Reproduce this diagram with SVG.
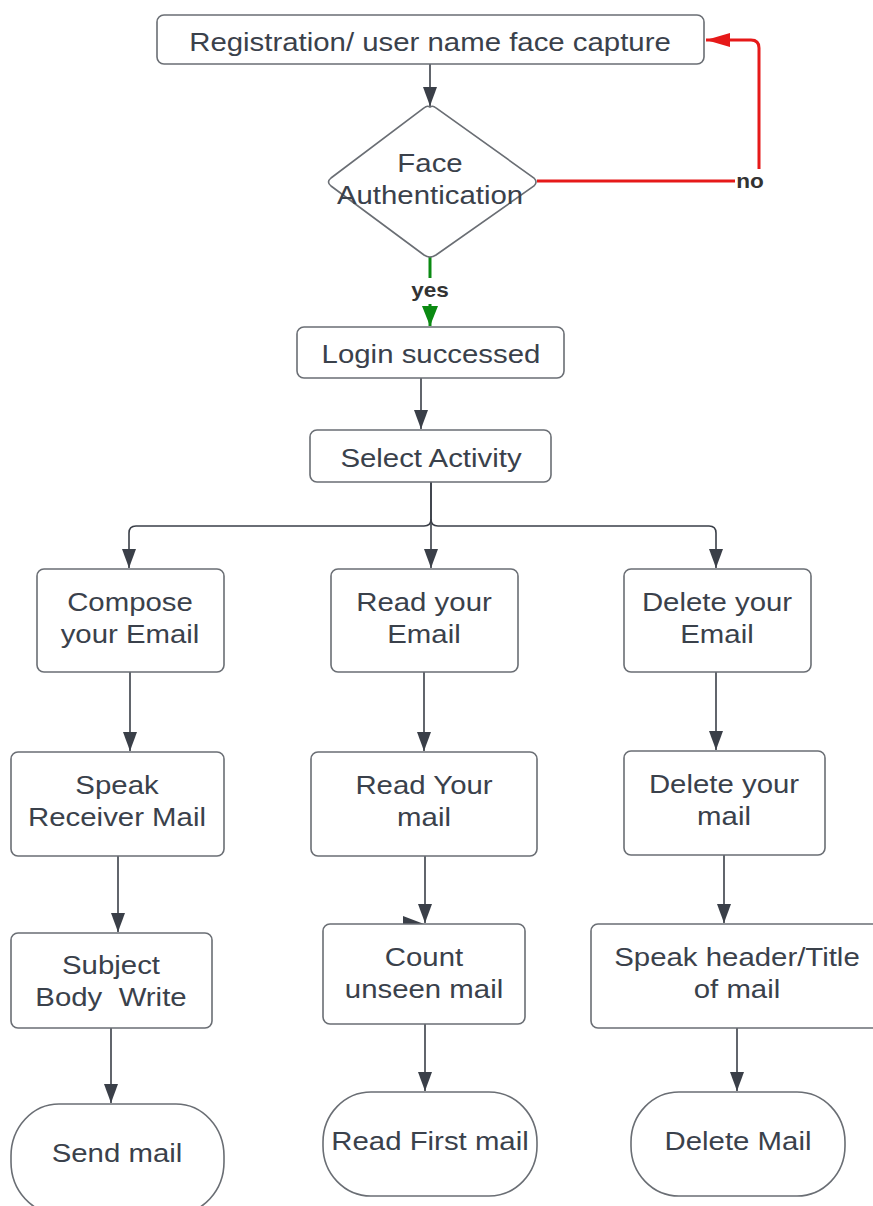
<svg xmlns="http://www.w3.org/2000/svg" width="873" height="1206" viewBox="0 0 873 1206">
<style>
.box{fill:#fff;stroke:#6a6e74;stroke-width:1.6}
.t{font-family:"Liberation Sans",Arial,sans-serif;font-size:26px;fill:#3a414b;text-anchor:middle}
.lbl{font-family:"Liberation Sans",Arial,sans-serif;font-size:20px;font-weight:bold;fill:#333;text-anchor:middle}
.c{fill:none;stroke:#3a3f48;stroke-width:1.6}
</style>
<defs>
<marker id="ah" viewBox="0 0 14 19" refX="14" refY="7" markerWidth="14" markerHeight="19" markerUnits="userSpaceOnUse" orient="auto"><path d="M0,0 L19,7 L0,14 Z" fill="#3a3f48" transform="translate(0,0)"/></marker>
<marker id="ahr" viewBox="0 0 24 14" refX="24" refY="7" markerWidth="24" markerHeight="14" markerUnits="userSpaceOnUse" orient="auto"><path d="M0,0 L24,7 L0,14 Z" fill="#e61919"/></marker>
<marker id="ahg" viewBox="0 0 20 16" refX="20" refY="8" markerWidth="20" markerHeight="16" markerUnits="userSpaceOnUse" orient="auto"><path d="M0,0 L20,8 L0,16 Z" fill="#0b8a12"/></marker>
<marker id="a2" viewBox="0 0 19 14" refX="19" refY="7" markerWidth="19" markerHeight="14" markerUnits="userSpaceOnUse" orient="auto"><path d="M0,0 L19,7 L0,14 Z" fill="#3a3f48"/></marker>
</defs>
<rect width="873" height="1206" fill="#fff"/>
<g id="connectors">
<path class="c" d="M430,64 V106" marker-end="url(#a2)"/>
<path d="M537,181 H759 V48 Q759,40 751,40 H706" fill="none" stroke="#e61919" stroke-width="3" marker-end="url(#ahr)"/>
<rect x="735" y="169" width="32" height="24" fill="#fff"/>
<text class="lbl" transform="translate(750 188) scale(1.13 1)">no</text>
<path d="M430,257 V326" fill="none" stroke="#0b8a12" stroke-width="3" marker-end="url(#ahg)"/>
<rect x="406" y="278" width="48" height="26" fill="#fff"/>
<text class="lbl" transform="translate(430 297) scale(1.13 1)">yes</text>
<path class="c" d="M421,378 V429" marker-end="url(#a2)"/>
<path class="c" d="M431,482 V568" marker-end="url(#a2)"/>
<path class="c" d="M431,482 V519 Q431,526 424,526 H136 Q129,526 129,533 V568" marker-end="url(#a2)"/>
<path class="c" d="M431,519 Q431,526 438,526 H709 Q716,526 716,533 V568" marker-end="url(#a2)"/>
<path class="c" d="M130,672 V751" marker-end="url(#a2)"/>
<path class="c" d="M424,672 V751" marker-end="url(#a2)"/>
<path class="c" d="M716,672 V750" marker-end="url(#a2)"/>
<path class="c" d="M118,856 V932" marker-end="url(#a2)"/>
<path class="c" d="M425,856 V923" marker-end="url(#a2)"/>
<path d="M403,916 L424,924 L403,932 Z" fill="#3a3f48"/>
<path class="c" d="M724,855 V923" marker-end="url(#a2)"/>
<path class="c" d="M111,1028 V1103" marker-end="url(#a2)"/>
<path class="c" d="M425,1024 V1091" marker-end="url(#a2)"/>
<path class="c" d="M737,1028 V1091" marker-end="url(#a2)"/>
</g>
<g id="registration"><rect class="box" x="157" y="15" width="547" height="49" rx="7"/><text class="t" transform="translate(430 51) scale(1.13 1)">Registration/ user name face capture</text></g>
<g id="face-auth"><path class="box" d="M430,107 Q433,105 436,108 L534,178 Q538,182 534,186 L436,255 Q430,259 424,255 L331,186 Q326,182 331,178 L424,108 Q427,105 430,107 Z"/><text class="t" transform="translate(430 172) scale(1.13 1)">Face</text><text class="t" transform="translate(430 204) scale(1.13 1)">Authentication</text></g>
<g id="login"><rect class="box" x="297" y="327" width="267" height="51" rx="7"/><text class="t" transform="translate(431 363) scale(1.13 1)">Login successed</text></g>
<g id="select"><rect class="box" x="310" y="430" width="241" height="52" rx="7"/><text class="t" transform="translate(431 467) scale(1.13 1)">Select Activity</text></g>
<g id="compose"><rect class="box" x="37" y="569" width="187" height="103" rx="7"/><text class="t" transform="translate(130 611) scale(1.13 1)">Compose</text><text class="t" transform="translate(130 643) scale(1.13 1)">your Email</text></g>
<g id="read-email"><rect class="box" x="331" y="569" width="187" height="103" rx="7"/><text class="t" transform="translate(424 611) scale(1.13 1)">Read your</text><text class="t" transform="translate(424 643) scale(1.13 1)">Email</text></g>
<g id="delete-email"><rect class="box" x="624" y="569" width="187" height="103" rx="7"/><text class="t" transform="translate(717 611) scale(1.13 1)">Delete your</text><text class="t" transform="translate(717 643) scale(1.13 1)">Email</text></g>
<g id="speak-receiver"><rect class="box" x="11" y="752" width="213" height="104" rx="7"/><text class="t" transform="translate(117 794) scale(1.13 1)">Speak</text><text class="t" transform="translate(117 826) scale(1.13 1)">Receiver Mail</text></g>
<g id="read-mail"><rect class="box" x="311" y="752" width="226" height="104" rx="7"/><text class="t" transform="translate(424 794) scale(1.13 1)">Read Your</text><text class="t" transform="translate(424 826) scale(1.13 1)">mail</text></g>
<g id="delete-mail"><rect class="box" x="624" y="751" width="201" height="104" rx="7"/><text class="t" transform="translate(724 793) scale(1.13 1)">Delete your</text><text class="t" transform="translate(724 825) scale(1.13 1)">mail</text></g>
<g id="subject"><rect class="box" x="11" y="933" width="201" height="95" rx="7"/><text class="t" transform="translate(111 974) scale(1.13 1)">Subject</text><text class="t" transform="translate(111 1006) scale(1.13 1)" xml:space="preserve">Body  Write</text></g>
<g id="count"><rect class="box" x="323" y="924" width="202" height="100" rx="7"/><text class="t" transform="translate(424 966) scale(1.13 1)">Count</text><text class="t" transform="translate(424 998) scale(1.13 1)">unseen mail</text></g>
<g id="speak-header"><rect class="box" x="591" y="924" width="292" height="104" rx="7"/><text class="t" transform="translate(737 966) scale(1.13 1)">Speak header/Title</text><text class="t" transform="translate(737 998) scale(1.13 1)">of mail</text></g>
<g id="send-mail"><rect class="box" x="11" y="1104" width="213" height="110" rx="48" ry="52"/><text class="t" transform="translate(117 1162) scale(1.13 1)">Send mail</text></g>
<g id="read-first"><rect class="box" x="323" y="1092" width="214" height="104" rx="48" ry="50"/><text class="t" transform="translate(430 1150) scale(1.13 1)">Read First mail</text></g>
<g id="delete-final"><rect class="box" x="631" y="1092" width="214" height="104" rx="48" ry="50"/><text class="t" transform="translate(738 1150) scale(1.13 1)">Delete Mail</text></g>
</svg>
